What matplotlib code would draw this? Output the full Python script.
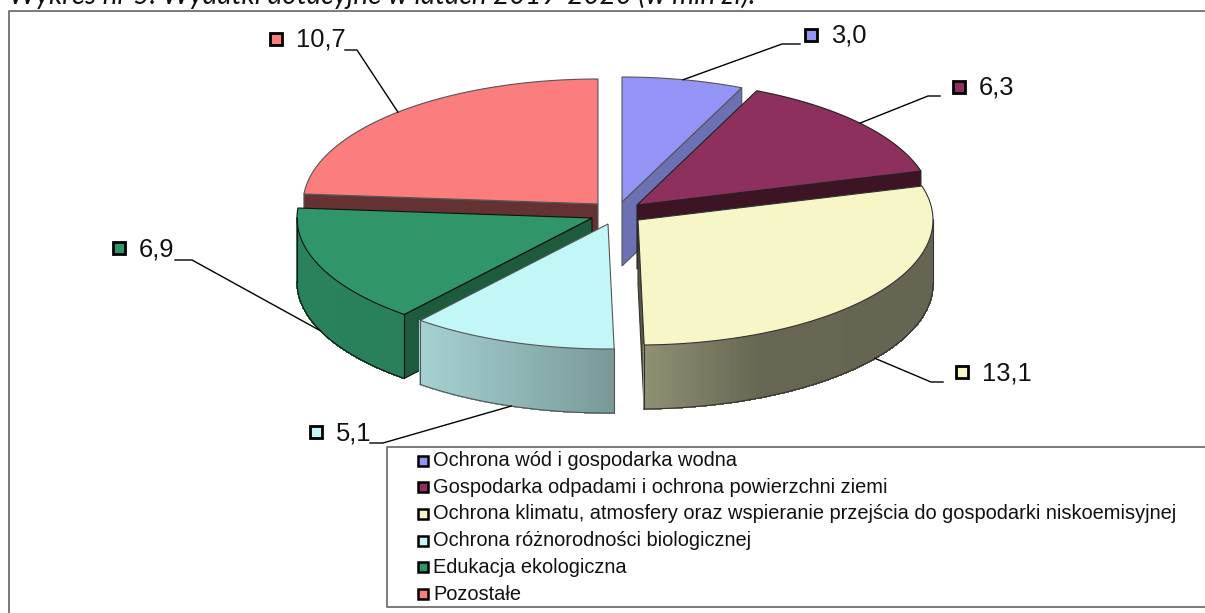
"""Exploded pseudo-3D pie of grant spending, drawn with plain polygons."""

import matplotlib

matplotlib.use("Agg")
import matplotlib.pyplot as plt
import numpy as np

TITLE = "Wykres nr 5. Wydatki dotacyjne w latach 2019-2020 (w mln zł)."
categories = [
    "Ochrona wód i gospodarka wodna",
    "Gospodarka odpadami i ochrona powierzchni ziemi",
    "Ochrona klimatu, atmosfery oraz wspieranie przejścia do gospodarki niskoemisyjnej",
    "Ochrona różnorodności biologicznej",
    "Edukacja ekologiczna",
    "Pozostałe",
]
values = [3.0, 6.3, 13.1, 5.1, 6.9, 10.7]
colors = ["#9494F7", "#8E305E", "#F6F6C6", "#C3F6F6", "#30966A", "#FB7D7D"]
side_colors = ["#6B71B2", "#3C1424", "#5A5A44", "#7A9696", "#1E5A3C", "#643232"]
edge_colors = ["#555555", "#222222", "#333333", "#555555", "#111111", "#555555"]

# pixel layout of the slices
apex_x = [622, 637, 638, 608, 592, 598]
apex_y = [202, 205, 220, 224, 218, 204]
RX, RY, DEPTH = 295, 125, 64
draw_order = [5, 0, 4, 1, 2, 3]

# elbow of each leader line and the label marker position
elbow = [(782, 44), (928, 96), (931, 382), (383, 443), (192, 260), (357, 50)]
leader_end = [(800, 44), (940, 96), (943, 382), (370, 443), (175, 260), (345, 50)]
marker_pos = [(811, 35), (959, 87), (962, 372), (316, 432), (119, 248), (276, 39)]

LABEL_FONT = "Liberation Sans"


def arc(i, t0, t1, n=120):
    t = np.radians(np.linspace(t0, t1, n))
    return apex_x[i] + RX * np.sin(t), apex_y[i] - RY * np.cos(t)


def rim_shade(x):
    return np.interp(x, [300, 420, 613, 644, 760, 933], [0.87, 0.85, 0.62, 0.585, 0.415, 0.41])


def face_visible(i, px, py, mx, my):
    # the cut face shows only when the slice top lies above the cut line
    ox, oy = apex_x[i], apex_y[i]
    if abs(px - ox) < 1e-6:
        return False
    line_y = oy + (py - oy) * (mx - ox) / (px - ox)
    return my < line_y


def draw_slice(ax, i, t0, t1):
    rgb = np.array(matplotlib.colors.to_rgb(colors[i]))
    edge = edge_colors[i]
    ex, ey = arc(i, t0, t1)
    ox, oy = apex_x[i], apex_y[i]
    mx, my = arc(i, (t0 + t1) / 2, (t0 + t1) / 2, n=1)

    # flat cut faces
    for px, py in [(ex[0], ey[0]), (ex[-1], ey[-1])]:
        if face_visible(i, px, py, mx[0], my[0]):
            ax.fill(
                [ox, px, px, ox],
                [oy, py, py + DEPTH, oy + DEPTH],
                facecolor=side_colors[i], edgecolor=edge, lw=0.8,
            )

    # front part of the rim, split up so the shading can run along it
    f0, f1 = max(t0, 90), min(t1, 270)
    if f1 > f0:
        fx, fy = arc(i, f0, f1, n=int(f1 - f0) * 3 + 2)
        for k in range(len(fx) - 1):
            c = rgb * rim_shade((fx[k] + fx[k + 1]) / 2)
            ax.fill(
                [fx[k], fx[k + 1], fx[k + 1], fx[k]],
                [fy[k], fy[k + 1], fy[k + 1] + DEPTH, fy[k] + DEPTH],
                color=c, lw=0.6, antialiased=False,
            )
        ax.plot(fx, fy + DEPTH, color=edge, lw=0.8)
        ax.plot([fx[0], fx[0]], [fy[0], fy[0] + DEPTH], color=edge, lw=0.8)
        ax.plot([fx[-1], fx[-1]], [fy[-1], fy[-1] + DEPTH], color=edge, lw=0.8)

    # top
    ax.fill(np.r_[ox, ex], np.r_[oy, ey], facecolor=colors[i], edgecolor=edge, lw=0.8)


fig = plt.figure(figsize=(12.05, 6.13), dpi=100)
ax = fig.add_axes([0, 0, 1, 1])
ax.set_xlim(0, 1205)
ax.set_ylim(613, 0)
ax.axis("off")

# outer frame, open on the right and bottom
ax.plot([1205, 9, 9], [11, 11, 613], color="#707070", lw=1.3)
ax.text(9, 4, TITLE, family="Lato", style="italic", fontsize=20.1, color="#111111", va="baseline")

edges = np.r_[0, np.cumsum(values)] / np.sum(values) * 360
for i in draw_order:
    draw_slice(ax, i, edges[i], edges[i + 1])

# value labels with leader lines
for i, v in enumerate(values):
    mid = (edges[i] + edges[i + 1]) / 2
    ax_x, ax_y = arc(i, mid, mid, n=1)
    if 90 < mid < 270:
        ax_y = ax_y + DEPTH
    ax.plot(
        [ax_x[0], elbow[i][0], leader_end[i][0]],
        [ax_y[0], elbow[i][1], leader_end[i][1]],
        color="black", lw=1.0,
    )
    mx, my = marker_pos[i]
    ax.plot(mx, my, "s", ms=8.6, mfc=colors[i], mec="black", mew=2.0)
    ax.text(mx + 20, my + 1, f"{v:.1f}".replace(".", ","), family=LABEL_FONT,
            fontsize=18.4, va="center", color="#111111")

# legend box
ax.plot([1205, 387, 387, 1205], [447, 447, 607, 607], color="#707070", lw=1.3)
for i, name in enumerate(categories):
    y = 460.5 + i * 26.7
    ax.plot(423, y, "s", ms=7.6, mfc=colors[i], mec="black", mew=1.8)
    ax.text(433, y, name, family=LABEL_FONT, fontsize=14.4, va="center", color="#111111")

fig.savefig("out.png", dpi=100)
plt.close(fig)
